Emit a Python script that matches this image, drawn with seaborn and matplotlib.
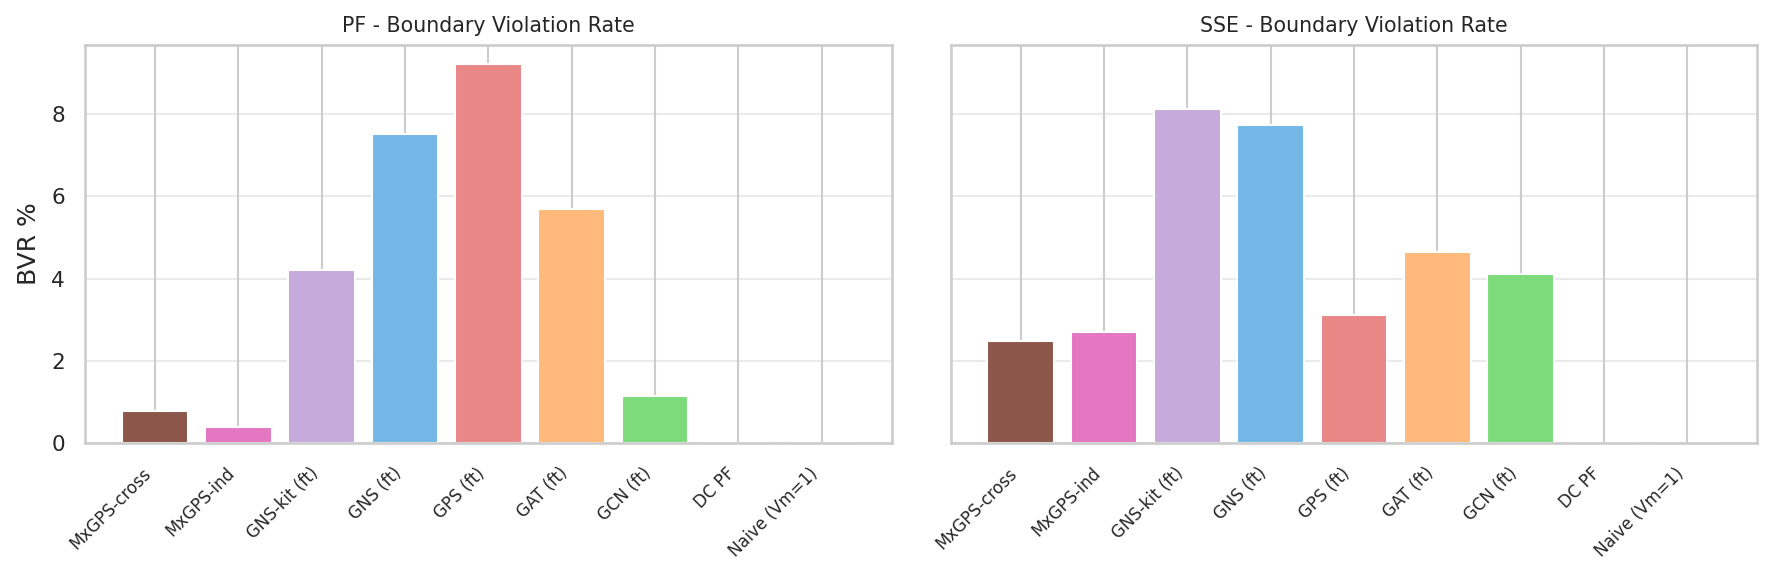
import numpy as np
import pandas as pd
import matplotlib
matplotlib.use("Agg")
import matplotlib.pyplot as plt
import seaborn as sns

# ---- data ----
methods = ["MxGPS-cross", "MxGPS-ind", "GNS-kit (ft)", "GNS (ft)", "GPS (ft)",
           "GAT (ft)", "GCN (ft)", "DC PF", "Naive (Vm=1)"]
pf_bvr = [0.77, 0.39, 4.20, 7.51, 9.22, 5.69, 1.14, 0.0, 0.0]
sse_bvr = [2.48, 2.70, 8.12, 7.73, 3.11, 4.64, 4.11, 0.0, 0.0]
bar_colors = ["#8c574a", "#e377c2", "#c5aadb", "#74b7e6", "#e98686",
              "#ffb97a", "#7ddb7b", "#9e9e9e", "#bdbdbd"]
titles = ["PF - Boundary Violation Rate", "SSE - Boundary Violation Rate"]

palette = dict(zip(methods, bar_colors))

# ---- style ----
sns.set_theme(style="whitegrid")
plt.rcParams["font.family"] = ["DejaVu Sans"]
plt.rcParams["axes.edgecolor"] = "#cccccc"
plt.rcParams["axes.linewidth"] = 1.9
plt.rcParams["grid.color"] = "#cccccc"
plt.rcParams["grid.linewidth"] = 1.5
plt.rcParams["xtick.major.size"] = 0
plt.rcParams["ytick.major.size"] = 0

fig, axes = plt.subplots(1, 2, figsize=(17.72, 5.74), dpi=100, sharey=True)
fig.subplots_adjust(left=0.048, right=0.9917, bottom=0.2287, top=0.921, wspace=0.0731)

for ax, vals, title in zip(axes, [pf_bvr, sse_bvr], titles):
    df = pd.DataFrame({"method": methods, "bvr": vals})
    sns.barplot(data=df, x="method", y="bvr", hue="method", palette=palette,
                legend=False, saturation=1, width=0.8,
                edgecolor="white", linewidth=1.5, ax=ax)
    # seaborn fixes categorical limits; restore matplotlib-style margins
    ax.set_xlim(-0.84, len(methods) - 1 + 0.84)
    ax.xaxis.grid(True, color="#cccccc", linewidth=1.5)
    ax.yaxis.grid(True, alpha=0.4)
    ax.set_axisbelow(True)
    ax.set_title(title, fontsize=14.8, pad=9.4, color="#262626")
    ax.set_xlabel("")
    ax.set_ylabel("")
    ax.tick_params(axis="x", labelsize=12, pad=15.5, labelcolor="#262626")
    ax.tick_params(axis="y", labelsize=15.5, pad=14.5, labelcolor="#262626")
    plt.setp(ax.get_xticklabels(), rotation=45, ha="right")

axes[0].set_ylabel("BVR %", fontsize=18, labelpad=7, color="#262626")
axes[0].set_yticks([0, 2, 4, 6, 8])

plt.savefig("out.png", dpi=100)
